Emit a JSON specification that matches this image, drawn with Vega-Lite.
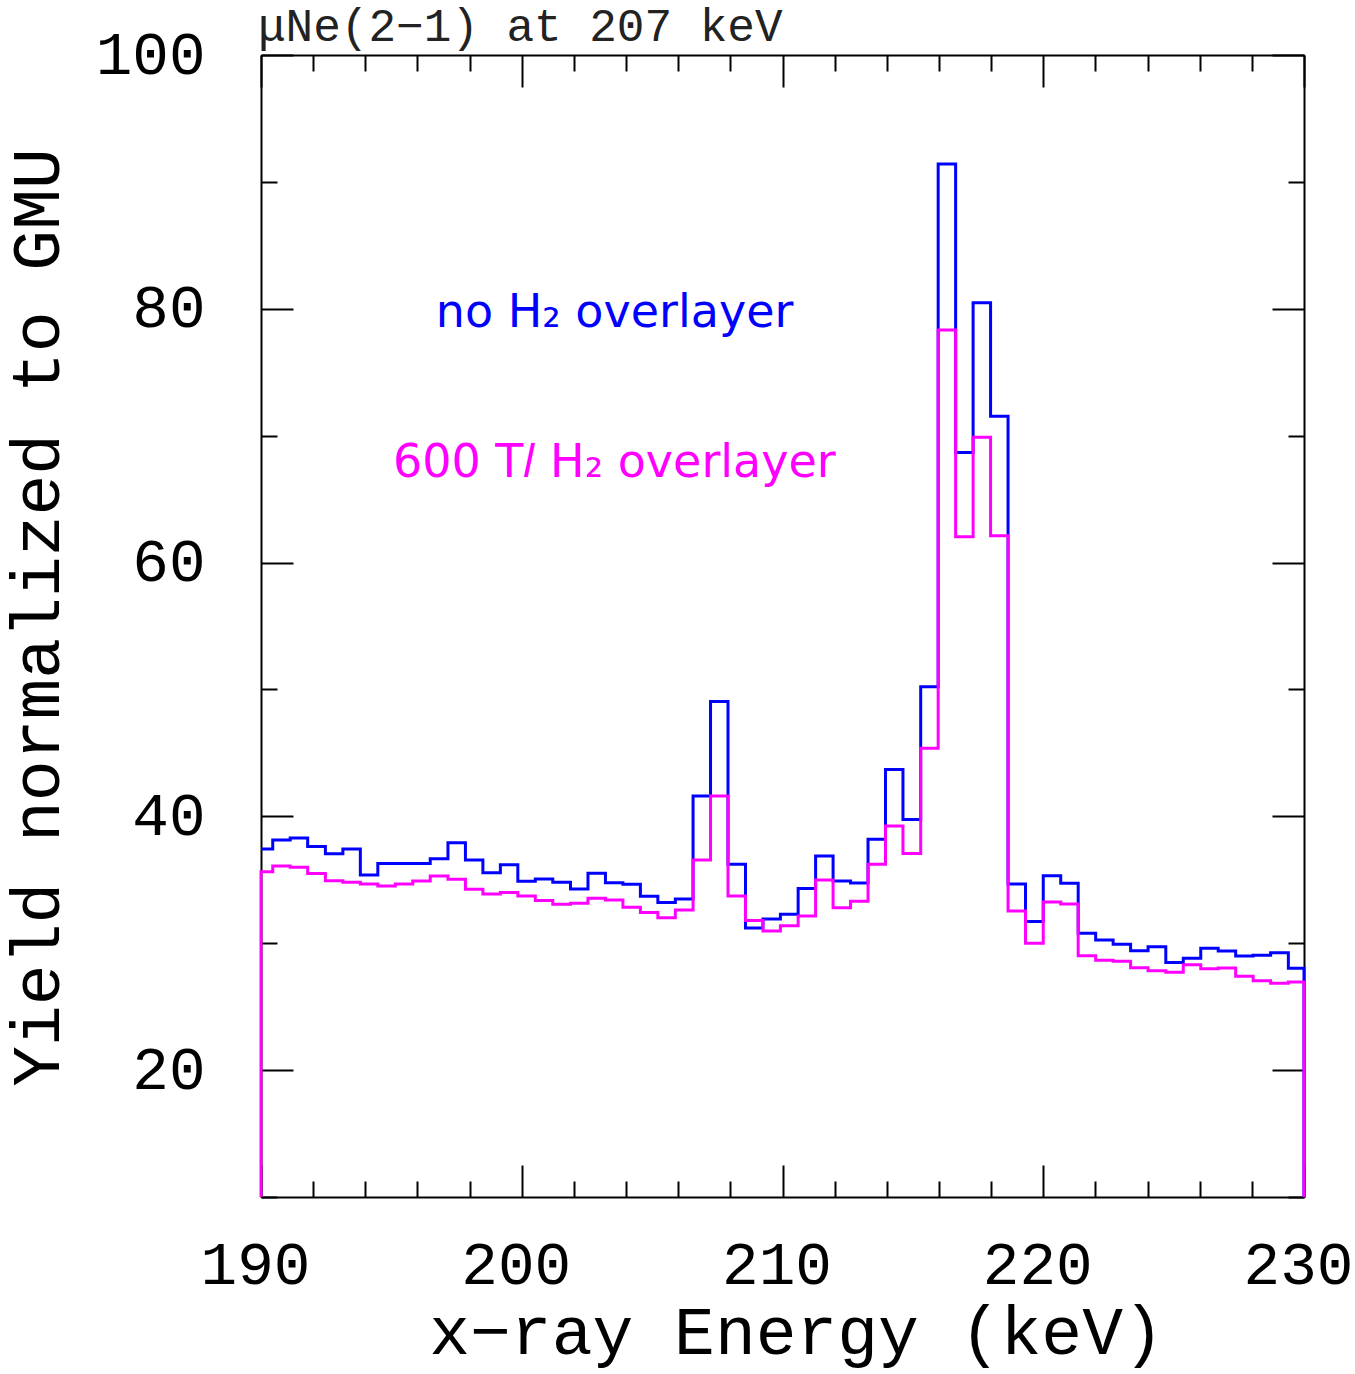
{
  "$schema": "https://vega.github.io/schema/vega-lite/v6.json",
  "autosize": {"type": "none"},
  "padding": {"left": 261, "top": 55, "right": 51, "bottom": 177},
  "width": 1043,
  "height": 1142,
  "background": "white",
  "title": {"text": "μNe(2−1) at 207 keV", "anchor": "start", "frame": "group", "baseline": "alphabetic", "offset": 0, "dy": 63, "dx": -3, "font": "Liberation Mono", "fontSize": 46, "fontWeight": "normal", "color": "#222222"},
  "config": {
    "view": {"stroke": null},
    "axis": {"grid": false, "domainColor": "black", "domainWidth": 2, "tickColor": "black", "tickWidth": 2, "labelFont": "Liberation Mono", "labelFontSize": 61, "labelColor": "black", "titleFont": "Liberation Mono", "titleFontSize": 68, "titleFontWeight": "normal", "titleColor": "black", "labelOverlap": false, "labelFlush": false}
  },
  "datasets": {
    "blue": [
      {"i": 0, "e": 190, "v": 37.42}, {"i": 1, "e": 190.45, "v": 38.13}, {"i": 2, "e": 191.12, "v": 38.29}, {"i": 3, "e": 191.79, "v": 37.63}, {"i": 4, "e": 192.47, "v": 37.05}, {"i": 5, "e": 193.14, "v": 37.42}, {"i": 6, "e": 193.81, "v": 35.37}, {"i": 7, "e": 194.48, "v": 36.29}, {"i": 8, "e": 195.15, "v": 36.29}, {"i": 9, "e": 195.82, "v": 36.29}, {"i": 10, "e": 196.49, "v": 36.65}, {"i": 11, "e": 197.17, "v": 37.92}, {"i": 12, "e": 197.84, "v": 36.56}, {"i": 13, "e": 198.51, "v": 35.56}, {"i": 14, "e": 199.18, "v": 36.19}, {"i": 15, "e": 199.85, "v": 34.88}, {"i": 16, "e": 200.52, "v": 35.07}, {"i": 17, "e": 201.19, "v": 34.8}, {"i": 18, "e": 201.87, "v": 34.27}, {"i": 19, "e": 202.54, "v": 35.51}, {"i": 20, "e": 203.21, "v": 34.77}, {"i": 21, "e": 203.88, "v": 34.64}, {"i": 22, "e": 204.55, "v": 33.7}, {"i": 23, "e": 205.22, "v": 33.2}, {"i": 24, "e": 205.89, "v": 33.48}, {"i": 25, "e": 206.57, "v": 41.6}, {"i": 26, "e": 207.24, "v": 49.05}, {"i": 27, "e": 207.91, "v": 36.23}, {"i": 28, "e": 208.58, "v": 31.2}, {"i": 29, "e": 209.25, "v": 31.9}, {"i": 30, "e": 209.92, "v": 32.29}, {"i": 31, "e": 210.6, "v": 34.32}, {"i": 32, "e": 211.27, "v": 36.87}, {"i": 33, "e": 211.94, "v": 34.9}, {"i": 34, "e": 212.61, "v": 34.75}, {"i": 35, "e": 213.28, "v": 38.19}, {"i": 36, "e": 213.95, "v": 43.7}, {"i": 37, "e": 214.62, "v": 39.76}, {"i": 38, "e": 215.3, "v": 50.21}, {"i": 39, "e": 215.97, "v": 91.4}, {"i": 40, "e": 216.64, "v": 68.68}, {"i": 41, "e": 217.31, "v": 80.47}, {"i": 42, "e": 217.98, "v": 71.54}, {"i": 43, "e": 218.65, "v": 34.67}, {"i": 44, "e": 219.32, "v": 31.71}, {"i": 45, "e": 220.0, "v": 35.32}, {"i": 46, "e": 220.67, "v": 34.72}, {"i": 47, "e": 221.34, "v": 30.78}, {"i": 48, "e": 222.01, "v": 30.25}, {"i": 49, "e": 222.68, "v": 29.91}, {"i": 50, "e": 223.35, "v": 29.41}, {"i": 51, "e": 224.02, "v": 29.72}, {"i": 52, "e": 224.7, "v": 28.49}, {"i": 53, "e": 225.37, "v": 28.81}, {"i": 54, "e": 226.04, "v": 29.6}, {"i": 55, "e": 226.71, "v": 29.39}, {"i": 56, "e": 227.38, "v": 28.99}, {"i": 57, "e": 228.05, "v": 29.05}, {"i": 58, "e": 228.72, "v": 29.25}, {"i": 59, "e": 229.4, "v": 28.02}, {"i": 60, "e": 230, "v": 28.02}, {"i": 61, "e": 230, "v": 10}
    ],
    "magenta": [
      {"i": 0, "e": 190, "v": 10}, {"i": 1, "e": 190, "v": 35.63}, {"i": 2, "e": 190.45, "v": 36.08}, {"i": 3, "e": 191.12, "v": 35.98}, {"i": 4, "e": 191.79, "v": 35.5}, {"i": 5, "e": 192.47, "v": 34.93}, {"i": 6, "e": 193.14, "v": 34.8}, {"i": 7, "e": 193.81, "v": 34.67}, {"i": 8, "e": 194.48, "v": 34.51}, {"i": 9, "e": 195.15, "v": 34.67}, {"i": 10, "e": 195.82, "v": 34.9}, {"i": 11, "e": 196.49, "v": 35.3}, {"i": 12, "e": 197.17, "v": 35.04}, {"i": 13, "e": 197.84, "v": 34.25}, {"i": 14, "e": 198.51, "v": 33.88}, {"i": 15, "e": 199.18, "v": 34.0}, {"i": 16, "e": 199.85, "v": 33.73}, {"i": 17, "e": 200.52, "v": 33.37}, {"i": 18, "e": 201.19, "v": 33.08}, {"i": 19, "e": 201.87, "v": 33.16}, {"i": 20, "e": 202.54, "v": 33.55}, {"i": 21, "e": 203.21, "v": 33.4}, {"i": 22, "e": 203.88, "v": 32.83}, {"i": 23, "e": 204.55, "v": 32.43}, {"i": 24, "e": 205.22, "v": 32.01}, {"i": 25, "e": 205.89, "v": 32.62}, {"i": 26, "e": 206.57, "v": 36.56}, {"i": 27, "e": 207.24, "v": 41.6}, {"i": 28, "e": 207.91, "v": 33.72}, {"i": 29, "e": 208.58, "v": 31.8}, {"i": 30, "e": 209.25, "v": 30.97}, {"i": 31, "e": 209.92, "v": 31.38}, {"i": 32, "e": 210.6, "v": 32.14}, {"i": 33, "e": 211.27, "v": 34.98}, {"i": 34, "e": 211.94, "v": 32.8}, {"i": 35, "e": 212.61, "v": 33.3}, {"i": 36, "e": 213.28, "v": 36.23}, {"i": 37, "e": 213.95, "v": 39.24}, {"i": 38, "e": 214.62, "v": 37.08}, {"i": 39, "e": 215.3, "v": 45.36}, {"i": 40, "e": 215.97, "v": 78.32}, {"i": 41, "e": 216.64, "v": 62.03}, {"i": 42, "e": 217.31, "v": 69.87}, {"i": 43, "e": 217.98, "v": 62.11}, {"i": 44, "e": 218.65, "v": 32.54}, {"i": 45, "e": 219.32, "v": 29.99}, {"i": 46, "e": 220.0, "v": 33.25}, {"i": 47, "e": 220.67, "v": 33.09}, {"i": 48, "e": 221.34, "v": 29.02}, {"i": 49, "e": 222.01, "v": 28.65}, {"i": 50, "e": 222.68, "v": 28.57}, {"i": 51, "e": 223.35, "v": 28.07}, {"i": 52, "e": 224.02, "v": 27.83}, {"i": 53, "e": 224.7, "v": 27.71}, {"i": 54, "e": 225.37, "v": 28.31}, {"i": 55, "e": 226.04, "v": 27.99}, {"i": 56, "e": 226.71, "v": 28.05}, {"i": 57, "e": 227.38, "v": 27.39}, {"i": 58, "e": 228.05, "v": 27.05}, {"i": 59, "e": 228.72, "v": 26.84}, {"i": 60, "e": 229.4, "v": 26.94}, {"i": 61, "e": 230, "v": 26.94}, {"i": 62, "e": 230, "v": 10}
    ],
    "notes": [
      {"x": 203.56, "y": 78.56, "t": "no H₂ overlayer", "c": "none"},
      {"x": 203.55, "y": 66.74, "t": "600 T𝑙 H₂ overlayer", "c": "600"}
    ]
  },
  "resolve": {"axis": {"x": "independent", "y": "independent"}},
  "layer": [
    {
      "data": {"name": "blue"},
      "mark": {"type": "line", "interpolate": "step-after", "color": "#0000ff", "strokeWidth": 3, "strokeJoin": "miter"},
      "encoding": {
        "x": {"field": "e", "type": "quantitative", "scale": {"domain": [190, 230], "nice": false, "zero": false},
          "axis": {"orient": "bottom", "values": [190,192,194,196,198,200,202,204,206,208,210,212,214,216,218,220,222,224,226,228,230],
            "tickSize": {"condition": {"test": "datum.value % 10 === 0", "value": -32}, "value": -16},
            "labelExpr": "datum.value % 10 === 0 ? datum.label : ''", "labelPadding": 100, "labelBaseline": "middle", "labelAlign": "center", "labelOffset": -6,
            "title": "x−ray Energy (keV)", "titleX": 535, "titleY": 156, "titleBaseline": "alphabetic", "titleAlign": "center", "titleAnchor": null}},
        "y": {"field": "v", "type": "quantitative", "scale": {"domain": [10, 100], "nice": false, "zero": false},
          "axis": {"orient": "left", "values": [10,20,30,40,50,60,70,80,90,100],
            "tickSize": {"condition": {"test": "datum.value % 20 === 0", "value": -32}, "value": -16},
            "labelExpr": "datum.value % 20 === 0 ? datum.label : ''", "labelPadding": 88, "labelBaseline": "middle", "labelAlign": "right",
            "title": "Yield normalized to GMU", "titleX": -203, "titleY": 562, "titleAngle": -90, "titleBaseline": "alphabetic", "titleAlign": "center", "titleAnchor": null}},
        "order": {"field": "i", "type": "quantitative"}
      }
    },
    {
      "data": {"name": "magenta"},
      "mark": {"type": "line", "interpolate": "step-after", "color": "#ff00ff", "strokeWidth": 3, "strokeJoin": "miter"},
      "encoding": {
        "x": {"field": "e", "type": "quantitative", "scale": {"domain": [190, 230], "nice": false, "zero": false},
          "axis": {"orient": "top", "values": [190,192,194,196,198,200,202,204,206,208,210,212,214,216,218,220,222,224,226,228,230],
            "tickSize": {"condition": {"test": "datum.value % 10 === 0", "value": -32}, "value": -16},
            "labels": false, "title": null}},
        "y": {"field": "v", "type": "quantitative", "scale": {"domain": [10, 100], "nice": false, "zero": false},
          "axis": {"orient": "right", "values": [10,20,30,40,50,60,70,80,90,100],
            "tickSize": {"condition": {"test": "datum.value % 20 === 0", "value": -32}, "value": -16},
            "labels": false, "title": null}},
        "order": {"field": "i", "type": "quantitative"}
      }
    },
    {
      "data": {"name": "notes"},
      "mark": {"type": "text", "font": "DejaVu Sans", "fontSize": 46, "baseline": "alphabetic", "align": "center"},
      "encoding": {
        "x": {"field": "x", "type": "quantitative", "scale": {"domain": [190, 230], "nice": false, "zero": false}, "axis": null},
        "y": {"field": "y", "type": "quantitative", "scale": {"domain": [10, 100], "nice": false, "zero": false}, "axis": null},
        "text": {"field": "t"},
        "color": {"field": "c", "type": "nominal", "scale": {"domain": ["none", "600"], "range": ["#0000ff", "#ff00ff"]}, "legend": null}
      }
    }
  ]
}
